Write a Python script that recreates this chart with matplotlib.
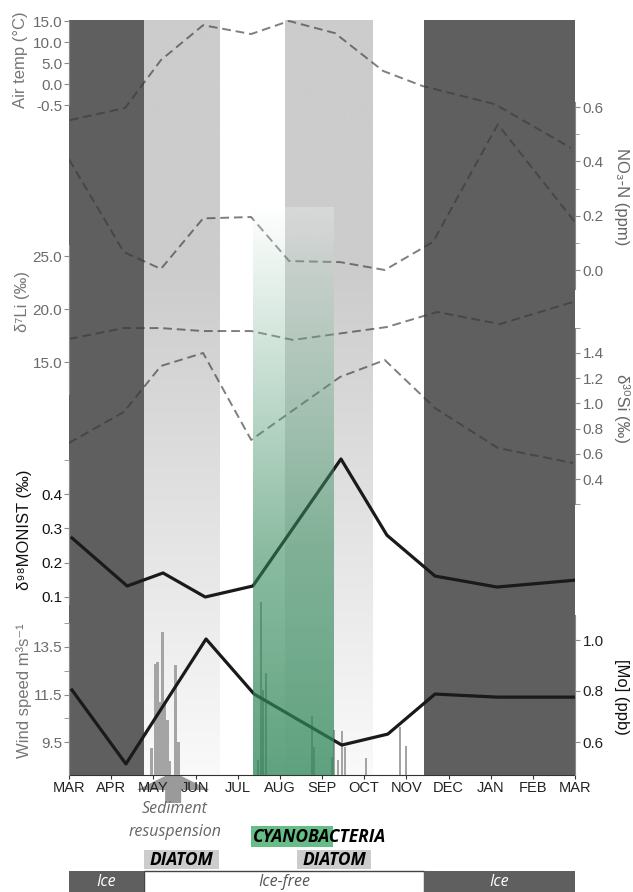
import numpy as np
import matplotlib.pyplot as plt
from matplotlib.patches import Rectangle, Polygon

# time axis: months since 1 March
months = ["MAR", "APR", "MAY", "JUN", "JUL", "AUG", "SEP",
          "OCT", "NOV", "DEC", "JAN", "FEB", "MAR"]

temp_month = [0.02, 1.33, 2.18, 3.18, 4.32, 5.22, 6.31, 7.45, 8.39, 10.1, 11.9]
air_temp = [-8.6, -5.7, 5.7, 14.0, 11.9, 15.0, 12.1, 3.1, -0.5, -4.8, -15.2]

no3_month = [0.0, 1.30, 2.18, 3.18, 4.32, 5.22, 6.43, 7.49, 8.63, 10.17, 12.0]
no3 = [0.407, 0.066, 0.004, 0.19, 0.195, 0.033, 0.029, 0.0, 0.103, 0.536, 0.176]

li_month = [0.0, 1.30, 2.18, 3.18, 4.32, 5.31, 7.54, 8.73, 10.22, 11.95]
d7li = [17.17, 18.2, 18.2, 17.92, 17.92, 17.08, 18.3, 19.72, 18.58, 20.66]

si_month = [0.0, 1.30, 2.18, 3.18, 4.32, 6.43, 7.49, 8.68, 10.17, 11.95]
d30si = [0.686, 0.932, 1.297, 1.40, 0.71, 1.21, 1.344, 0.963, 0.646, 0.527]

mo98_month = [0.07, 1.38, 2.23, 3.23, 4.36, 6.45, 7.54, 8.68, 10.15, 12.0]
d98mo = [0.272, 0.132, 0.17, 0.10, 0.132, 0.502, 0.28, 0.161, 0.129, 0.149]

moc_month = [0.07, 1.35, 3.25, 4.39, 6.47, 7.56, 8.68, 10.15, 12.0]
mo_conc = [0.804, 0.514, 1.004, 0.788, 0.588, 0.631, 0.788, 0.776, 0.776]

wind_month = [1.96, 2.05, 2.10, 2.16, 2.22, 2.28, 2.34, 2.40, 2.53, 2.60,
              4.48, 4.55, 4.60, 4.67, 5.76, 5.81, 6.24, 6.28, 6.38, 6.47,
              6.54, 7.04, 7.85, 7.99]
wind_speed = [9.24, 12.78, 12.87, 11.2, 14.13, 11.18, 10.42, 8.7, 12.74, 9.49,
              8.73, 15.4, 11.69, 12.4, 10.59, 9.28, 8.86, 10.0, 8.73, 9.96,
              9.28, 8.82, 10.12, 9.32]

ice_periods = [(0.0, 1.78), (8.42, 12.0)]
diatom_periods = [(1.78, 3.56), (5.12, 7.19)]
cyano_period = (4.36, 6.26)
resusp_month = 2.47

W, H = 633, 892
TOP, BOT = 20, 775
L, R = 69, 575
fig = plt.figure(figsize=(W / 100, H / 100), dpi=100)
rect = [L / W, (H - BOT) / H, (R - L) / W, (BOT - TOP) / H]

TICK = ['Liberation Sans', 'DejaVu Sans']
ANN = ['Open Sans', 'DejaVu Sans']
GRAY = '#6a6a6a'


def calib(a, v1, p1, v2, p2):
    # put value v1 at pixel row p1 and v2 at p2
    s = (p2 - p1) / (v1 - v2)
    a.set_ylim(v1 - (BOT - p1) / s, v1 + (p1 - TOP) / s)


def overlay(side, color):
    a = fig.add_axes(rect)
    a.patch.set_visible(False)
    a.set_xlim(0, 12)
    a.xaxis.set_visible(False)
    for s in a.spines.values():
        s.set_visible(False)
    a.spines[side].set_visible(True)
    a.spines[side].set_color('#8a8a8a')
    a.yaxis.set_ticks_position(side)
    a.tick_params(axis='y', which='both', colors='#8a8a8a', labelcolor=color,
                  labelsize=11, length=3.5, pad=1.5 if side == 'left' else 2)
    return a


# background seasons
ax = fig.add_axes(rect)
for a, b in ice_periods:
    ax.axvspan(a, b, color='#5f5f5f', lw=0, zorder=0)
rows = np.arange(TOP, BOT + 1)
g = np.where(rows < 270, 0.80, 0.80 + (rows - 270) / (BOT - 270) * 0.18)
gray_img = np.repeat(g[:, None, None], 3, axis=2)
for a, b in diatom_periods:
    ax.imshow(gray_img, extent=(a, b, BOT, TOP), aspect='auto', zorder=0.5,
              interpolation='bilinear')
ax.set_xlim(0, 12)
ax.set_ylim(BOT, TOP)
for s in ['top', 'left', 'right']:
    ax.spines[s].set_visible(False)
ax.spines['bottom'].set_color('#333333')
ax.set_yticks([])
ax.set_xticks(range(13))
ax.set_xticklabels(months, family=TICK, fontsize=10.5, color='#222222')
ax.tick_params(axis='x', length=3, pad=1, color='#333333')

dash = dict(color='#3a3a3a', alpha=0.65, lw=1.4, ls=(0, (4.5, 2.5)))

# air temperature
at = overlay('left', GRAY)
calib(at, 15, 21, -5, 105)
at.spines['left'].set_bounds(-5, 15)
at.set_yticks([-5, 0, 5, 10, 15])
at.set_yticklabels(['-0.5', '0.0', '5.0', '10.0', '15.0'], family=TICK)
at.plot(temp_month, air_temp, **dash)

# nitrate
an = overlay('right', GRAY)
calib(an, 0.6, 107, 0.0, 270)
an.spines['right'].set_bounds(-0.07, 0.62)
an.set_yticks([0.0, 0.2, 0.4, 0.6])
an.set_yticks([0.1, 0.3, 0.5], minor=True)
an.set_yticklabels(['0.0', '0.2', '0.4', '0.6'], family=TICK)
an.tick_params(axis='y', which='minor', length=3)
an.plot(no3_month, no3, **dash)

# lithium isotopes
al = overlay('left', GRAY)
calib(al, 25, 256, 15, 362)
al.spines['left'].set_bounds(12, 26)
al.set_yticks([15, 20, 25])
al.set_yticklabels(['15.0', '20.0', '25.0'], family=TICK)
al.plot(li_month, d7li, **dash)

# silicon isotopes
asi = overlay('right', GRAY)
calib(asi, 1.4, 353, 0.4, 479)
asi.spines['right'].set_bounds(0.2, 1.6)
asi.set_yticks([0.4, 0.6, 0.8, 1.0, 1.2, 1.4])
asi.set_yticks([0.2, 1.6], minor=True)
asi.set_yticklabels(['0.4', '0.6', '0.8', '1.0', '1.2', '1.4'], family=TICK)
asi.tick_params(axis='y', which='minor', length=3.5)
asi.plot(si_month, d30si, **dash)

# molybdenum isotopes
am = overlay('left', '#111111')
calib(am, 0.4, 494, 0.1, 597)
am.spines['left'].set_bounds(0.08, 0.5)
am.set_yticks([0.1, 0.2, 0.3, 0.4])
am.set_yticks([0.5], minor=True)
am.set_yticklabels(['0.1', '0.2', '0.3', '0.4'], family=TICK)
am.tick_params(axis='y', which='minor', length=3.5)
am.plot(mo98_month, d98mo, color='#1a1a1a', lw=2.3)

# wind speed bars
aw = overlay('left', GRAY)
calib(aw, 13.5, 647, 9.5, 742)
aw.spines['left'].set_bounds(aw.get_ylim()[0], 14.5)
aw.set_yticks([9.5, 11.5, 13.5])
aw.set_yticks([10.5, 12.5, 14.5], minor=True)
aw.set_yticklabels(['9.5', '11.5', '13.5'], family=TICK)
aw.tick_params(axis='y', which='minor', length=3.5)
aw.bar(wind_month, wind_speed, width=0.06, color='#a4a4a4', lw=0)

# molybdenum concentration
ac = overlay('right', '#222222')
calib(ac, 1.0, 640, 0.6, 742)
ac.spines['right'].set_bounds(ac.get_ylim()[0], 1.1)
ac.set_yticks([0.6, 0.8, 1.0])
ac.set_yticklabels(['0.6', '0.8', '1.0'], family=TICK)
ac.plot(moc_month, mo_conc, color='#1a1a1a', lw=2.3)

# cyanobacteria bloom overlay (on top of the data)
gx = fig.add_axes(rect)
gx.axis('off')
t = np.linspace(0, 1, 300)[:, None]
green = np.array([0.19, 0.53, 0.35])
alpha = 0.25 + 0.52 * t
mix = np.clip(0.78 * np.minimum(1, 1.2 * t) / alpha, 0, 1)
rgba = np.zeros((300, 1, 4))
rgba[..., :3] = (1 - mix[..., None]) + mix[..., None] * green
rgba[..., 3] = alpha
gx.imshow(rgba, extent=(cyano_period[0], cyano_period[1], BOT, 207),
          aspect='auto', interpolation='bilinear')
gx.set_xlim(0, 12)
gx.set_ylim(BOT, TOP)

# axis titles
lab = dict(rotation=90, ha='center', va='center', fontsize=12, family=TICK)
fig.text(21 / W, 1 - 60 / H, 'Air temp (°C)', color='#777777', **lab)
fig.text(23 / W, 1 - 302 / H, 'δ⁷Li (‰)', color='#777777', **lab)
fig.text(24 / W, 1 - 530 / H, 'δ⁹⁸MONIST (‰)', color='#111111', **lab)
fig.text(24 / W, 1 - 691 / H, 'Wind speed m³s⁻¹', color='#777777', **lab)
lab['rotation'] = 270
fig.text(622 / W, 1 - 197 / H, 'NO₃-N (ppm)', color='#666666', **lab)
fig.text(622 / W, 1 - 408 / H, 'δ³⁰Si (‰)', color='#666666', **lab)
fig.text(622 / W, 1 - 697 / H, '[Mo] (ppb)', color='#111111', **lab)

# annotations below the time axis
ab = fig.add_axes([L / W, 0, (R - L) / W, (H - BOT) / H])
ab.set_zorder(-1)
ab.axis('off')
ab.set_xlim(0, 12)
ab.set_ylim(H, BOT)
hw, sw = 0.86, 0.19   # half widths of arrow head and shaft, months
ab.add_patch(Polygon([(resusp_month - sw, 803), (resusp_month - sw, 790),
                      (resusp_month - hw, 790), (resusp_month, 772),
                      (resusp_month + hw, 790), (resusp_month + sw, 790),
                      (resusp_month + sw, 803)],
                     closed=True, color='#9a9a9a', lw=0, clip_on=False))
it = dict(family=ANN, style='italic', ha='center', va='center', fontsize=11.5)
ab.text(2.5, 809, 'Sediment', color='#666666', **it)
ab.text(2.52, 832, 'resuspension', color='#666666', **it)

ab.add_patch(Rectangle((cyano_period[0] - 0.05, 826), cyano_period[1] - cyano_period[0] + 0.05, 21,
                       color='#67bd87', lw=0, clip_on=False))
ab.text(cyano_period[0], 837, 'CYANOBACTERIA', color='black', weight='bold',
        **{**it, 'ha': 'left', 'fontsize': 12.5})
for a, b in [(1.78, 3.55), (5.41, 7.16)]:
    ab.add_patch(Rectangle((a, 850), b - a, 19, color='#cccccc', lw=0, clip_on=False))
    ab.text((a + b) / 2, 860, 'DIATOM', color='black', weight='bold',
            **{**it, 'fontsize': 12.5})

ab.add_patch(Rectangle((ice_periods[0][1], 871), ice_periods[1][0] - ice_periods[0][1], 22,
                       fc='white', ec='#444444', lw=1, clip_on=False))
ab.text((ice_periods[0][1] + ice_periods[1][0]) / 2, 882, 'Ice-free', color='#555555', **it)
for a, b in ice_periods:
    ab.add_patch(Rectangle((a, 871), b - a, 22, color='#5f5f5f', lw=0, clip_on=False))
    ab.text((a + b) / 2, 882, 'Ice', color='white', **it)

fig.savefig('out.png', dpi=100)
